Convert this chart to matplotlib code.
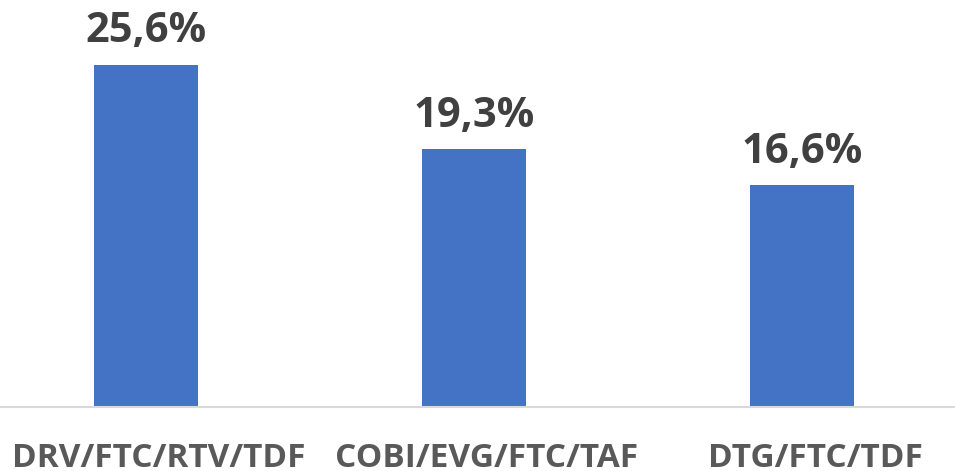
import matplotlib.pyplot as plt
from matplotlib.transforms import ScaledTranslation

# data
categories = ["DRV/FTC/RTV/TDF", "COBI/EVG/FTC/TAF", "DTG/FTC/TDF"]
values = [25.6, 19.3, 16.6]
labels = ["25,6%", "19,3%", "16,6%"]

plt.rcParams['font.family'] = ['Open Sans', 'DejaVu Sans']

fig = plt.figure(figsize=(9.55, 4.71), dpi=100)
# axes a bit wider than the figure so the category slots line up
ax = fig.add_axes([-18 / 955, 64 / 471, 984 / 955, 400.8 / 471])

x = range(len(categories))
bars = ax.bar(x, values, width=0.317, color='#4472C4')
ax.set_xlim(-0.5, len(categories) - 0.5)
ax.set_ylim(0, 30)

# value labels above each bar
for xi, v, lab in zip(x, values, labels):
    ax.annotate(lab, (xi, v), xytext=(0, 9), textcoords='offset points',
                ha='center', va='bottom', fontsize=30, fontweight='bold',
                color='#404040')

ax.set_xticks(list(x))
ax.set_xticklabels(categories, fontsize=24, fontweight='bold', color='#595959')
ax.tick_params(axis='x', length=0, pad=25)
ax.set_yticks([])
# category labels sit a little right of the bar centres in the original
shift = ScaledTranslation(13 / 100, 0, fig.dpi_scale_trans)
for t in ax.get_xticklabels():
    t.set_transform(t.get_transform() + shift)

for s in ['top', 'right', 'left']:
    ax.spines[s].set_visible(False)
ax.spines['bottom'].set_color('#D9D9D9')
ax.spines['bottom'].set_linewidth(1.5)

fig.savefig('out.png', dpi=100)
